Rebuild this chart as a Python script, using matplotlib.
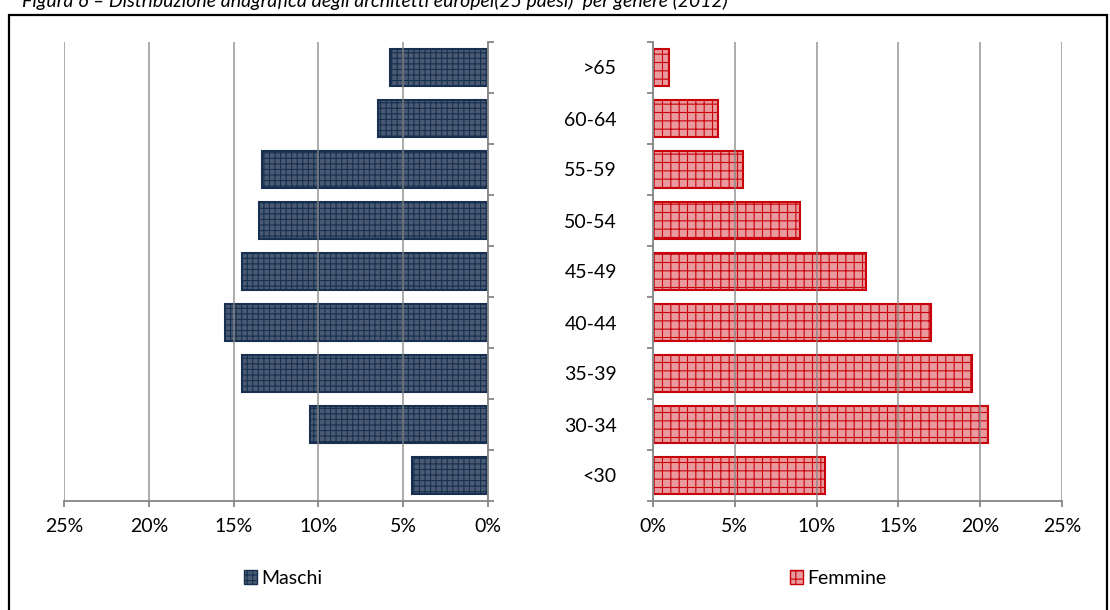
import matplotlib
matplotlib.use('Agg')
import matplotlib.pyplot as plt
from matplotlib.patches import Patch, Rectangle
from matplotlib.ticker import PercentFormatter

plt.rcParams['font.family'] = ['Lato', 'DejaVu Sans']
plt.rcParams['hatch.linewidth'] = 0.8

# data (share of architects by age group, %)
eta = ['<30', '30-34', '35-39', '40-44', '45-49', '50-54', '55-59', '60-64', '>65']
maschi = [4.5, 10.5, 14.5, 15.5, 14.5, 13.5, 13.3, 6.5, 5.8]
femmine = [10.5, 20.5, 19.5, 17.0, 13.0, 9.0, 5.5, 4.0, 1.0]
x_ticks = [0, 5, 10, 15, 20, 25]

W, H = 1110, 610
fig = plt.figure(figsize=(W / 100, H / 100), dpi=100)

def px_axes(x0, y0, x1, y1):
    return fig.add_axes([x0 / W, (H - y1) / H, (x1 - x0) / W, (y1 - y0) / H])

grey = '#868686'
m_face, m_edge = '#4a5a72', '#17304f'
f_face, f_edge = '#e99a9d', '#c8000a'
fs = 14

ax_m = px_axes(64, 42, 488, 501)
ax_f = px_axes(653, 42, 1062, 501)

pos = range(len(eta))
ax_m.barh(pos, maschi, height=0.72, color=m_face, edgecolor=m_edge,
          hatch='+++', linewidth=1.5, zorder=2)
ax_f.barh(pos, femmine, height=0.72, color=f_face, edgecolor=f_edge,
          hatch='++', linewidth=1.5, zorder=2)

for ax in (ax_m, ax_f):
    ax.set_ylim(-0.5, len(eta) - 0.5)
    ax.set_xticks(x_ticks)
    ax.xaxis.set_major_formatter(PercentFormatter(decimals=0))
    ax.grid(axis='x', color=grey, linewidth=1.3, alpha=0.75, zorder=3)
    ax.set_axisbelow(False)
    ax.spines['top'].set_visible(False)
    for s in ('left', 'right', 'bottom'):
        ax.spines[s].set_color(grey)
        ax.spines[s].set_linewidth(1.3)
    ax.tick_params(axis='x', direction='out', length=4, width=1.3, color=grey,
                   labelsize=fs, pad=8)
    ax.set_yticks([p - 0.5 for p in pos] + [len(eta) - 0.5])
    ax.tick_params(axis='y', direction='out', length=4, width=1.3, color=grey)

ax_m.set_xlim(25, 0)
ax_m.spines['left'].set_visible(False)
ax_m.yaxis.tick_right()
ax_m.set_yticklabels([])

ax_f.set_xlim(0, 25)
ax_f.spines['right'].set_visible(False)
ax_f.set_yticklabels([])
ax_f.set_yticks(list(pos), minor=True)
ax_f.set_yticklabels(eta, minor=True)
ax_f.tick_params(axis='y', which='minor', length=0, labelsize=fs, pad=26)

# legends
fig.legend(handles=[Patch(facecolor=m_face, edgecolor=m_edge, hatch='+++', label='Maschi')],
           loc='center', bbox_to_anchor=(283 / W, 1 - 578 / H), frameon=False,
           fontsize=fs, handlelength=0.7, handleheight=0.7, handletextpad=0.2)
fig.legend(handles=[Patch(facecolor=f_face, edgecolor=f_edge, hatch='++', label='Femmine')],
           loc='center', bbox_to_anchor=(838 / W, 1 - 578 / H), frameon=False,
           fontsize=fs, handlelength=0.7, handleheight=0.7, handletextpad=0.2)

# outer frame and clipped caption
fig.patches.append(Rectangle((9 / W, -0.01), (1107 - 9) / W, 1 - 15 / H + 0.01,
                             transform=fig.transFigure, fill=False,
                             edgecolor='black', linewidth=1.6))
fig.text(22 / W, 1 - 6.5 / H,
         'Figura 6 \u2013 Distribuzione anagrafica degli architetti europei(25 paesi)  per genere (2012)',
         fontsize=fs, style='italic', va='baseline', ha='left')

fig.savefig('out.png', dpi=100)
